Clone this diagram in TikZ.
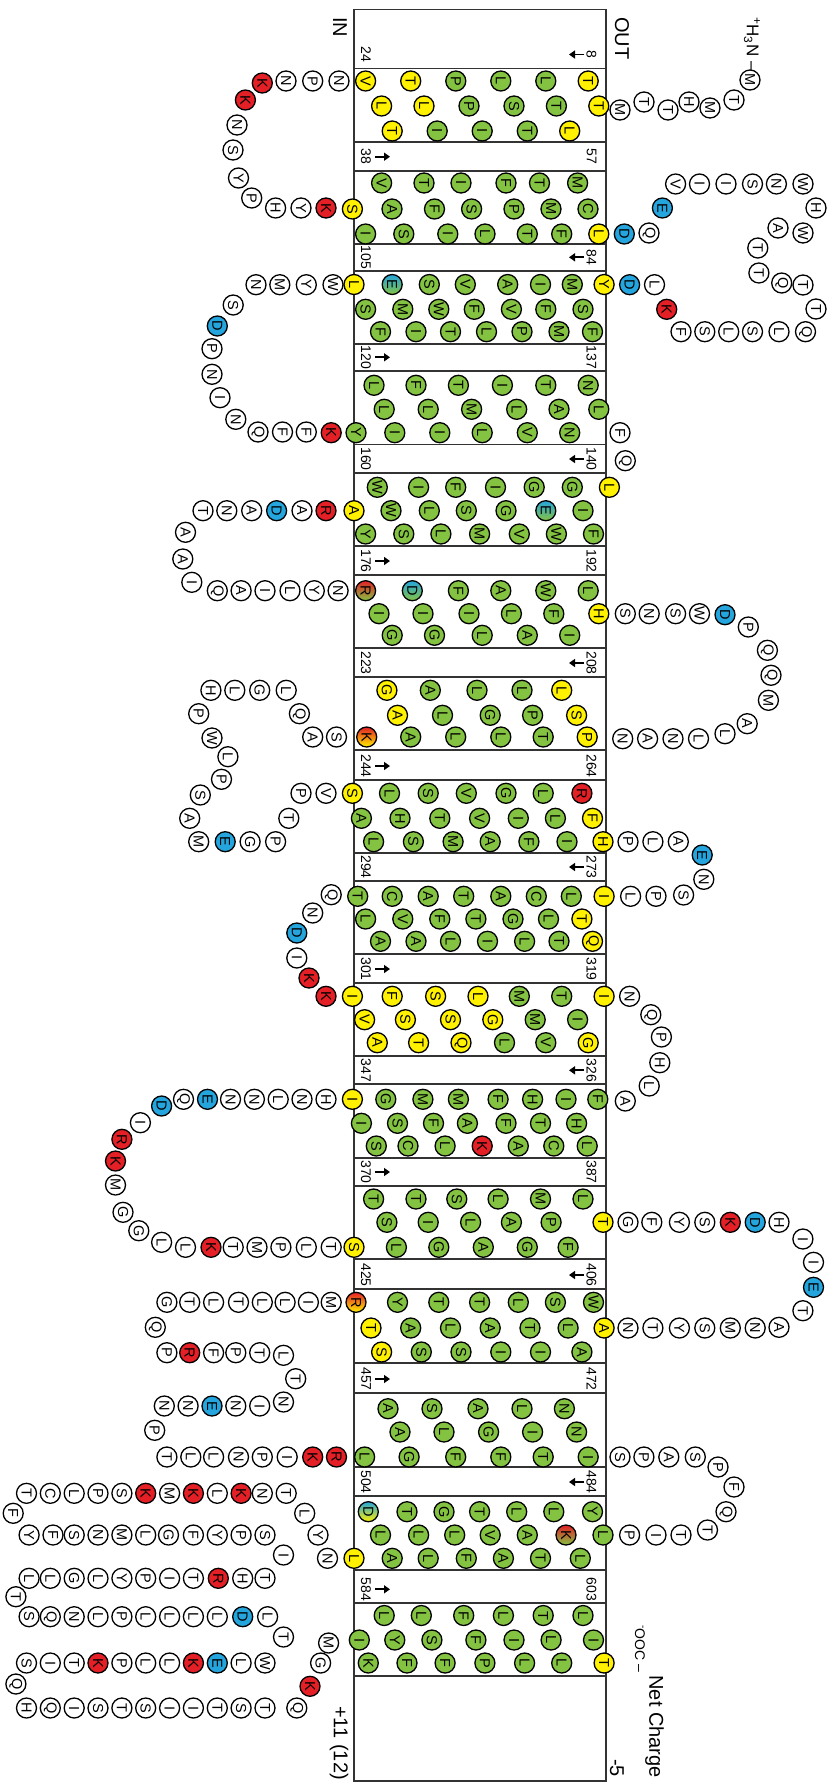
\documentclass[tikz,border=0pt]{standalone}
\usepackage{fontspec}
\setmainfont{Liberation Sans}
\usetikzlibrary{arrows.meta}
\definecolor{cg}{HTML}{84C341}
\definecolor{cy}{HTML}{FFF100}
\definecolor{cr}{HTML}{E41F26}
\definecolor{cb}{HTML}{25A5DD}
\definecolor{cw}{HTML}{FFFFFF}
\definecolor{cline}{HTML}{333333}
\newcounter{rn}
\newcommand\resrow[2]{\foreach \xx/\ll/\cc in {#2}{\stepcounter{rn}\edef\nm{r\arabic{rn}}\node[res,fill=\cc] (\nm) at (\xx,#1) {\ll};}}
\newcommand\reslist[1]{\foreach \xx/\yy/\ll/\cc in {#1}{\stepcounter{rn}\edef\nm{r\arabic{rn}}\node[res,fill=\cc] (\nm) at (\xx,\yy) {\ll};}}
\begin{document}
\begin{tikzpicture}[x=1pt,y=-1pt,
  res/.style={circle,draw=black,line width=1.3pt,minimum size=20pt,inner sep=0pt,font=\fontsize{14.5}{14.5}\selectfont,rotate=-90},
  num/.style={font=\fontsize{14}{14}\selectfont,rotate=-90,inner sep=0pt},
  lab/.style={font=\fontsize{20}{20}\selectfont,rotate=-90,inner sep=0pt},
  memb/.style={draw=cline,line width=1.7pt},
  arr/.style={line width=1.8pt,-{Triangle[length=6pt,width=8pt]}}]
\fill[white] (0,0) rectangle (831,1783);
\useasboundingbox (0,0) rectangle (831,1783);
% membrane
\draw[memb] (354,9.5) rectangle (606,1781);
\foreach \t/\b in {68.5/141.7,170.7/243.7,271.3/344.3,371.3/444.5,473/546.3,575/648,677/750,780/853.3,881/954,983/1056,1084.3/1157.7,1186/1259,1289/1363,1393/1467,1496/1570,1603.3/1676.3}{
  \draw[memb] (354,\t) -- (606,\t); \draw[memb] (354,\b) -- (606,\b);}
% numbers
\foreach \t/\l/\r/\s [count=\i] in {68.5/24/8/1,170.7/38/57/0,271.3/105/84/1,371.3/120/137/0,473/160/140/1,575/176/192/0,677/223/208/1,780/244/264/0,881/294/273/1,983/301/319/0,1084.3/347/326/1,1186/370/387/0,1289/425/406/1,1393/457/472/0,1496/504/484/1,1603.3/584/603/0}{
  \node[num] (nl\i) at (366,\t-14) {\l};
  \node[num] (nr\i) at (591.5,\t-14) {\r};
  \ifnum\s=1 \draw[arr] (584,\t-14) -- (569,\t-14); \else \draw[arr] (375,\t-14) -- (390,\t-14); \fi}
% labels
\node[lab,anchor=west] (lin) at (340,17) {IN};
\node[lab,anchor=west] (lout) at (622,17) {OUT};
\node[lab,anchor=east] (lnet) at (654.5,1778) {Net Charge};
\node[lab,anchor=east] (lm5) at (617,1777) {-5};
\node[lab,anchor=east] (lp11) at (339,1780) {+11 (12)};
\node[rotate=-90,inner sep=0pt,anchor=west,font=\fontsize{17}{17}\selectfont] (nterm) at (752,17) {\textsuperscript{+}H\textsubscript{3}N –};
\node[rotate=-90,inner sep=0pt,anchor=west,font=\fontsize{14}{14}\selectfont] (cterm) at (640,1625) {\textsuperscript{-}OOC –};
% N-term
\reslist{750/80/M/cw,734/100/T/cw,710/108/M/cw,689/102/H/cw,668/110/T/cw,644/102/T/cw,620/110/M/cw}
% TM1
\resrow{81}{365.6/V/cy,410.7/T/cy,455.8/P/cg,500.8/L/cg,545.8/L/cg,588.2/T/cy}
\resrow{106}{381.6/L/cy,424/L/cy,469/P/cg,514/S/cg,556.4/T/cg,598.8/T/cy}
\resrow{131}{392.2/T/cy,437.2/I/cg,482.2/I/cg,527.3/T/cg,569.7/L/cy}
\reslist{339/81/N/cw,312.7/81/P/cw,286/81/N/cw,262.3/83/K/cr,245.4/100/K/cr,237/125/N/cw,233/150/S/cw,238.5/178/Y/cw,251.7/198/P/cw,275.6/208/H/cw,301/208/Y/cw,326/208/K/cr}
% TM2
\resrow{183}{381.6/V/cg,424/T/cg,461/I/cg,506/F/cg,539.5/T/cg,577.6/M/cg}
\resrow{209}{352.4/S/cy,392/A/cg,434.5/F/cg,471.6/S/cg,514/P/cg,551/M/cg,588/C/cg}
\resrow{234}{365.6/I/cg,403.8/S/cg,447.8/I/cg,485/L/cg,527.3/T/cg,561.7/F/cg,598.8/L/cy}
\reslist{624.3/234/D/cb,649/233/Q/cw,662.4/208/E/cb,675.6/184/V/cw,699.5/184/I/cw,726/184/I/cw,752.5/184/S/cw,776.4/184/N/cw,803/184/W/cw,816/208/H/cw,803/233/W/cw,778/228/A/cw,757.8/248/T/cw,758.9/273/T/cw,781.7/283/Q/cw,803/285/T/cw,816/309/T/cw,805.5/331.7/Q/cw,779/331.7/L/cw,752.5/331.7/S/cw,728.7/331.7/L/cw,704.8/331.7/S/cw,681/331.7/F/cw,666.7/309.3/K/cr,654.5/284.7/L/cw,629.6/284.7/D/cb}
% TM3
\resrow{284.5}{354/L/cy,429.3/S/cg,465.3/V/cg,507.7/A/cg,540.5/I/cg,572.3/M/cg,604.1/Y/cy}
\resrow{309.3}{365.6/S/cg,402.8/M/cg,438.8/W/cg,474.3/F/cg,511.4/V/cg,545.8/F/cg,583/S/cg}
\resrow{331.7}{380.5/F/cg,416/I/cg,450.5/T/cg,486.5/L/cg,522/P/cg,559/M/cg,592.5/F/cg}
\reslist{333/284.7/W/cw,306.3/284.7/Y/cw,279.8/284.7/M/cw,256/284.7/N/cw,233.2/305/S/cw,217.3/326/D/cb,212/348.7/P/cw,212/374.3/N/cw,220/397.7/I/cw,235.8/419.3/N/cw,258/432/Q/cw,282.5/432/F/cw,306.3/432/F/cw,331.2/432.7/K/cr}
% TM4
\resrow{385.3}{374/L/cg,416/F/cg,458.4/T/cg,502.4/I/cg,545.8/T/cg,588.2/N/cg}
\resrow{409.3}{384.2/L/cg,428.2/L/cg,471.6/M/cg,516.7/L/cg,559/A/cg,598.8/L/cg}
\resrow{432.7}{356/Y/cg,394.8/I/cg,439.8/I/cg,482.2/L/cg,527.3/V/cg,569.7/N/cg}
\reslist{620/432.7/F/cw,625.3/460.7/Q/cw}
% TM5
\resrow{487.3}{377.3/W/cg,418.6/I/cg,455.7/F/cg,495.5/I/cg,534.2/G/cg,572.3/G/cg,609.4/L/cy}
\resrow{510.7}{354/A/cy,391/W/cg,429.3/L/cg,466.3/S/cg,506/G/cg,583/I/cg}
\resrow{534}{365.6/Y/cg,403.8/S/cg,440.9/L/cg,479.6/M/cg,519.3/V/cg,556.4/W/cg,593.5/F/cg}
\reslist{326/510.7/R/cr,302/510.7/A/cw,276.6/510.7/D/cb,251.7/510.7/A/cw,226.8/510.7/N/cw,203/510.7/T/cw,185.5/532.3/A/cw,182.8/559/A/cw,191.8/582.3/I/cw,217.3/590.7/Q/cw,241.1/590.7/A/cw,265/590.7/I/cw,290/590.7/L/cw,314.3/590.7/Y/cw,338.1/590.7/N/cw}
% TM6
\resrow{590.7}{458.4/F/cg,500.8/A/cg,545.8/W/cg,588.2/L/cg}
\resrow{613.7}{379/I/cg,423/I/cg,469/I/cg,511.4/L/cg,553.8/F/cg,598.8/H/cy}
\resrow{635.3}{392.2/G/cg,434.5/G/cg,482.2/L/cg,527.3/A/cg,569.7/I/cg}
\reslist{625.3/613.7/S/cw,649.2/613.7/N/cw,675.6/613.7/S/cw,699.5/613.7/W/cw,725/614.7/D/cb,748.3/627/P/cw,767.4/650.3/Q/cw,771/675.3/Q/cw,768.4/700.3/M/cw,747.2/723.7/A/cw,725/733.7/L/cw,698.5/738.7/L/cw,673/738.7/N/cw,647.6/738.7/A/cw,622.7/738.7/N/cw}
% TM7
\resrow{690.3}{386.9/G/cy,430.3/A/cg,477/L/cg,522/L/cg,561.7/L/cy}
\resrow{715.3}{397.5/A/cy,442.5/L/cg,490.2/G/cg,532.6/P/cg,576.6/S/cy}
\resrow{737}{410.7/A/cg,455.7/L/cg,500.8/L/cg,543.2/T/cg,587.2/P/cy}
\reslist{336.5/737/S/cw,312.7/737/A/cw,299.4/713.7/Q/cw,286.2/690.3/L/cw,259.7/690.3/G/cw,234.8/690.3/L/cw,210.9/690.3/H/cw,198.7/713.7/P/cw,212/738/W/cw,227.9/756.7/L/cw,221.5/779.3/P/cw,200.3/795/S/cw,189.7/818.3/A/cw,198.7/841.7/M/cw,225.2/841.7/E/cb,250.1/841.7/G/cw,275.6/841.7/P/cw,288.8/818.3/T/cw,301/793.3/P/cw,326/793.3/V/cw}
% TM8
\resrow{793.3}{352.4/S/cy,389.5/L/cg,428.2/S/cg,466.3/V/cg,506/G/cg,543.2/L/cg,581.9/R/cr}
\resrow{818.3}{361.4/A/cg,400/H/cg,439.8/T/cg,479.6/V/cg,518.3/I/cg,555.4/L/cg,592.5/F/cy}
\resrow{841.7}{373.6/L/cg,413.4/S/cg,453.1/M/cg,490.2/A/cg,528.9/F/cg,567/I/cg,603/H/cy}
\reslist{628/841.7/P/cw,652.9/841.7/L/cw,678.3/841.7/A/cw,702.2/855/E/cb,703.8/879.3/N/cw,683.6/895/S/cw,656/896.3/P/cw,630.6/896.3/L/cw}
% TM9
\resrow{896.3}{357.7/T/cg,392.2/C/cg,428.2/A/cg,463.7/T/cg,500.8/A/cg,536.3/C/cg,571.3/L/cg,604.1/I/cy}
\resrow{919}{365.6/L/cg,402.8/V/cg,439.8/F/cg,475.9/T/cg,513/G/cg,548.5/L/cg,581.9/T/cy}
\resrow{941.3}{380.5/A/cg,416/A/cg,450.5/L/cg,487.5/I/cg,524.6/L/cg,559/T/cg,592.5/Q/cy}
\reslist{331.2/894.7/Q/cw,312.7/913/N/cw,296.8/933/D/cb,296.8/958/I/cw,309/978/K/cr,326/996.3/K/cr}
% TM10
\resrow{996.3}{352.4/I/cy,392.2/F/cy,435.6/S/cy,478/L/cy,519.3/M/cg,561.7/T/cg,604.1/I/cy}
\resrow{1019.7}{364.6/V/cy,405.4/S/cy,450.5/S/cy,492.8/G/cy,535.2/M/cg,577.6/I/cg}
\resrow{1042.7}{377.3/A/cy,418.6/T/cy,461/Q/cy,504.5/L/cg,545.8/V/cg,588.2/G/cy}
\reslist{629.6/996.3/N/cw,650.8/1014.7/Q/cw,661.4/1037/P/cw,659.8/1062.7/H/cw,649.2/1086/L/cw,625.3/1101/A/cw}
% TM11
\resrow{1099.3}{352.4/I/cy,385.8/G/cg,422.9/M/cg,458.4/M/cg,498.1/F/cg,532.6/H/cg,566/I/cg,597.8/F/cg}
\resrow{1123.3}{361.4/I/cg,397.5/S/cg,433.5/F/cg,467.4/A/cg,506/F/cg,540.5/T/cg,576.6/H/cg}
\resrow{1146}{376.3/S/cg,408/C/cg,445.1/L/cg,482.2/K/cr,518.3/A/cg,553.8/C/cg,587.2/L/cg}
\reslist{326/1099.3/H/cw,302/1099.3/N/cw,278.2/1099.3/L/cw,254.4/1099.3/N/cw,230.5/1099.3/N/cw,207.5/1099.3/E/cb,183.5/1099.3/Q/cw,161.6/1106/D/cb,140.4/1122.7/I/cw,121.9/1139.3/R/cr,115.5/1161/K/cr,115.5/1185/M/cw,123/1212.3/G/cw,138.8/1230.7/G/cw,161.6/1242.3/L/cw,185.5/1247.3/L/cw,211/1247.3/K/cr,233.2/1247.3/T/cw,257/1247.3/M/cw,280.9/1247.3/P/cw,306.3/1247.3/L/cw,331.2/1247.3/T/cw}
% TM12
\resrow{1199}{373.6/T/cg,416/T/cg,456.8/S/cg,498.1/L/cg,540.5/M/cg,583/L/cg}
\resrow{1222.3}{386.9/S/cg,428.2/I/cg,470.6/L/cg,511.4/A/cg,551.1/P/cg,603/T/cy}
\resrow{1247.3}{354/S/cy,396.4/L/cg,438.8/G/cg,483.3/A/cg,527.3/G/cg,568.1/F/cg}
\reslist{628/1222.3/G/cw,651.8/1222.3/F/cw,679.4/1222.3/Y/cw,704.8/1222.3/S/cw,730.3/1222.3/K/cr,755.2/1222.3/D/cb,779/1222.3/H/cw,802.9/1239/I/cw,813.5/1262.3/I/cw,813.5/1287.3/E/cb,802.9/1310.7/T/cw,779/1327.3/A/cw,755.2/1328/N/cw,730.3/1328/M/cw,704.8/1328/S/cw,679.4/1328/Y/cw,652.9/1328/T/cw,628/1328/N/cw}
% TM13
\resrow{1302.3}{397.5/Y/cg,438.8/T/cg,479.6/T/cg,518.3/L/cg,555.4/S/cg,593.5/W/cg}
\resrow{1328}{371/T/cy,410.7/A/cg,450.5/L/cg,490.2/A/cg,530/T/cg,568.1/L/cg,604.1/A/cy}
\resrow{1352}{381.6/S/cy,421.3/S/cg,461/S/cg,500.8/I/cg,540.5/I/cg,581.9/A/cg}
\reslist{331.2/1302.3/M/cw,308.4/1302.3/I/cw,285.1/1302.3/L/cw,262.3/1302.3/L/cw,238.5/1302.3/T/cw,213.6/1302.3/L/cw,189.7/1302.3/T/cw,166.9/1302.3/G/cw,155.3/1327.3/Q/cw,166.9/1352.7/P/cw,189.7/1352.7/R/cr,213.6/1352.7/F/cw,235.8/1352.7/P/cw,259.7/1352.7/T/cw,283.5/1355.3/L/cw,295.7/1378.7/T/cw,283.5/1402/N/cw,259.7/1406/I/cw,235.8/1406/N/cw,212/1406/E/cb,188.1/1406/N/cw,164.3/1406/N/cw,154.7/1430.3/P/cw,166.9/1457/T/cw,190.8/1457/L/cw,213.6/1457/L/cw,238.5/1457/N/cw,262.3/1457/P/cw,287.2/1457/I/cw,312.7/1457/K/cr,336.5/1457/R/cr}
% TM14
\resrow{1408.7}{388/A/cg,432/S/cg,478/A/cg,522/L/cg,564.4/N/cg}
\resrow{1432}{400/A/cg,444/L/cg,488.6/G/cg,532.6/I/cg,576.6/N/cg}
\resrow{1457}{364.6/L/cg,409.1/G/cg,455.7/F/cg,500.8/F/cg,543.2/T/cg,588.2/I/cg}
\reslist{620/1457/S/cw,643.9/1457/P/cw,668.8/1457/A/cw,695.3/1457/S/cw,718/1467/P/cw,734/1487/F/cw,726/1511.7/Q/cw,707.5/1530/T/cw,681/1535/T/cw,656/1535/I/cw,629.6/1535/P/cw}
% TM15
\resrow{1511.7}{407/T/cg,444/G/cg,479.6/T/cg,516.7/L/cg,553.8/L/cg,592.5/Y/cg}
\resrow{1535}{380.5/L/cg,418.6/L/cg,454.7/L/cg,490.2/V/cg,527.3/A/cg,603/L/cg}
\resrow{1558.3}{354/L/cy,392.2/A/cg,428.2/L/cg,466.3/F/cg,503.4/A/cg,540.5/T/cg,580.3/L/cg}
% big IN loop
\reslist{327.5/1558.3/N/cw,318/1535/Y/cw,304.7/1513.3/L/cw,13.2/1513.3/F/cw,283.5/1555/I/cw,15.9/1596.7/T/cw,283.5/1637/T/cw,15.9/1684/Q/cw,296.8/1708/Q/cw,310/1686.3/K/cr,320.6/1663/G/cw,328.6/1643/M/cw}
\resrow{1493.3}{286.2/T/cw,262.3/N/cw,241.1/K/cr,217.3/L/cw,193.4/K/cr,169.6/M/cw,145.7/K/cr,121.9/S/cw,98/P/cw,74.2/L/cw,50.3/C/cw,26.5/T/cw}
\resrow{1535}{29.1/Y/cw,53/F/cw,74.2/S/cw,98/N/cw,121.9/M/cw,145.7/L/cw,168.5/G/cw,193.4/F/cw,217.3/Y/cw,241.1/P/cw,265/S/cw}
\resrow{1578.3}{265/T/cw,242.7/H/cw,218.3/R/cr,193.4/T/cw,169.6/I/cw,145.7/P/cw,121.9/Y/cw,98/L/cw,74.2/G/cw,50.3/L/cw,29.1/L/cw}
\resrow{1616.7}{29.1/S/cw,50.3/Q/cw,74.2/N/cw,98/L/cw,121.9/P/cw,145.7/L/cw,169.6/L/cw,193.4/L/cw,217.3/L/cw,242.7/D/cb,267.6/L/cw}
\resrow{1663}{265/W/cw,241.1/L/cw,217.3/E/cb,193.4/K/cr,169.6/L/cw,145.7/L/cw,121.9/P/cw,98/K/cr,74.2/T/cw,50.3/I/cw,26.5/S/cw}
\resrow{1708}{26.5/H/cw,50.3/Q/cw,74.2/I/cw,98/S/cw,121.9/T/cw,145.7/S/cw,169.6/I/cw,193.4/I/cw,217.3/T/cw,241.1/S/cw,265/T/cw}
% TM16
\resrow{1615.5}{384.2/L/cg,421.3/L/cg,463.7/F/cg,503.4/L/cg,543.2/T/cg,583/L/cg}
\resrow{1640}{359.3/I/cg,394.8/Y/cg,431.9/S/cg,475.9/F/cg,514/I/cg,551.1/L/cg,593.5/I/cg}
\resrow{1663}{368.3/K/cg,407/F/cg,445.1/F/cg,484.9/P/cg,524.6/L/cg,561.7/L/cg,604.1/T/cy}
% mixed-colour residues
\node[res,top color=cb,bottom color=cg] (gE1) at (392.2,284.5) {E};
\node[res,top color=cb,bottom color=cg] (gE2) at (545.8,510.7) {E};
\node[res,top color=cr,bottom color=cg] (gR1) at (365.6,590.7) {R};
\node[res,top color=cb,bottom color=cg] (gD1) at (412.3,590.7) {D};
\node[res,top color=cr,bottom color=cy] (gK1) at (366.7,737) {K};
\node[res,top color=cr,bottom color=cy] (gR2) at (356,1302.3) {R};
\node[res,top color=cb,bottom color=cy] (gD2) at (368.3,1511.7) {D};
\node[res,top color=cr,bottom color=cg] (gK2) at (566,1535) {K};
\end{tikzpicture}
\end{document}
